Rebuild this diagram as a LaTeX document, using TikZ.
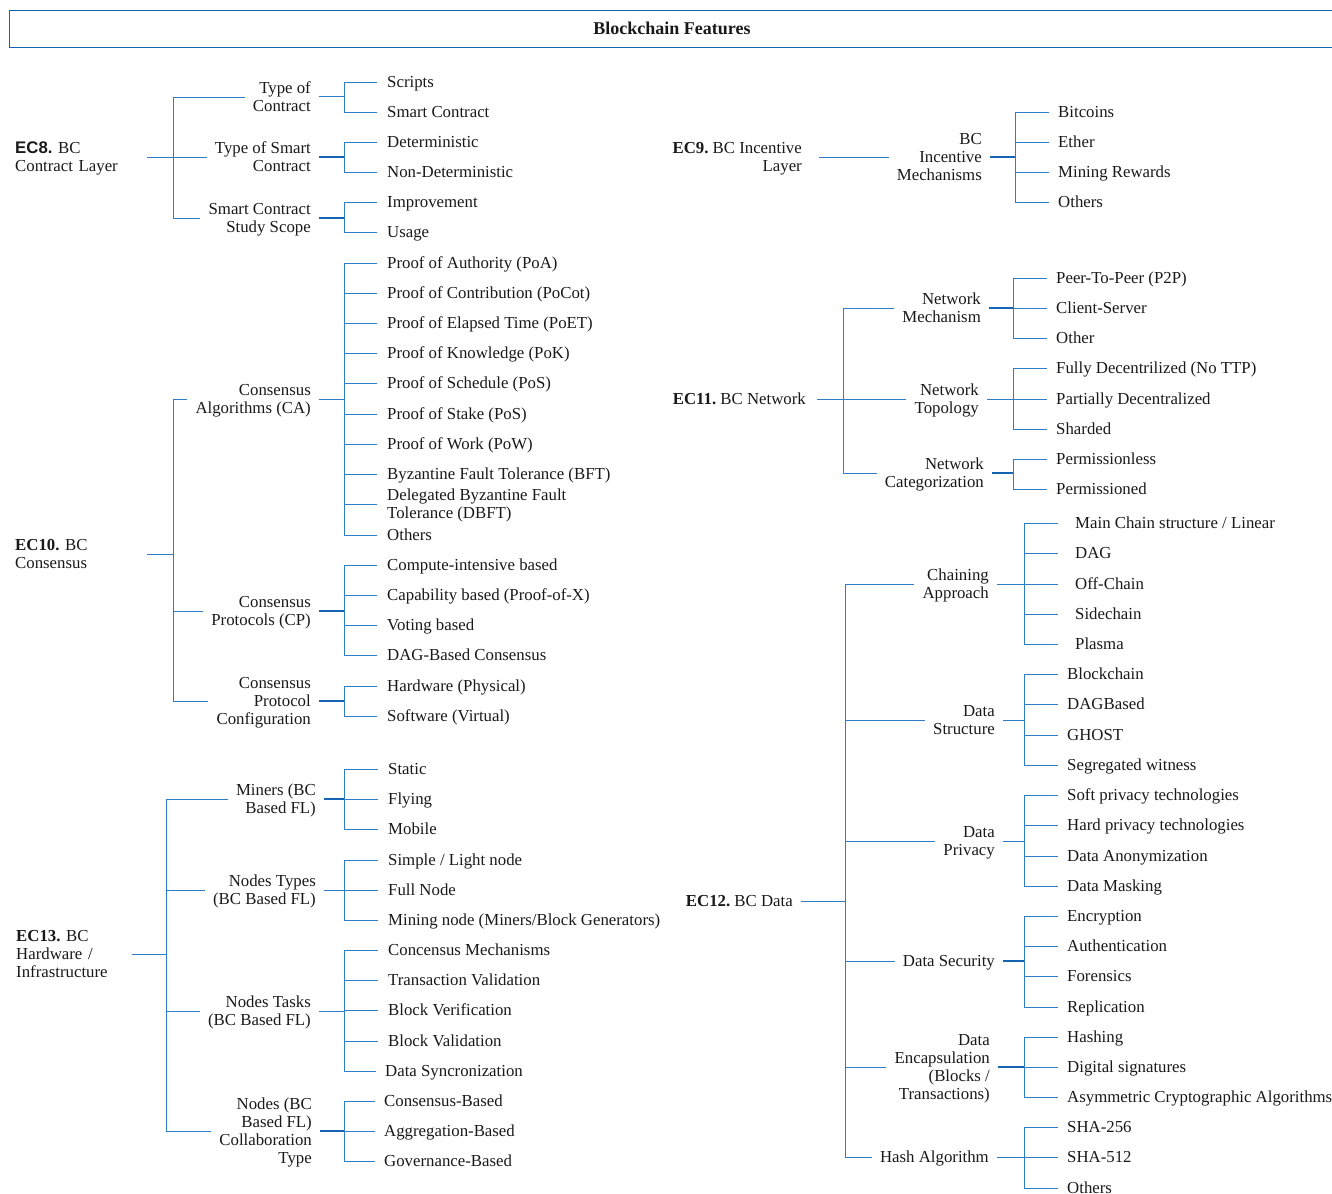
\documentclass[tikz,border=0pt]{standalone}
\usepackage{fontspec}
\setmainfont{Liberation Serif}
\newfontfamily\ecsans{Liberation Sans}
\definecolor{bcblue}{RGB}{45,125,200}
\definecolor{bcdark}{RGB}{20,100,180}
\frenchspacing
\begin{document}
\begin{tikzpicture}[x=1pt,y=-1pt,
  every node/.style={font=\fontsize{16.8}{18}\selectfont, inner ysep=0pt, text=black!90},
  % single line, and boxes whose baseline is the first line (fixed text width)
  l1/.style={text height=11.3pt, text depth=0pt},
  l2/.style={text height=11.3pt, text depth=18pt},
  l3/.style={text height=11.3pt, text depth=36pt},
  % boxes whose baseline is the last line (align without text width)
  m2/.style={text height=29.3pt, text depth=0pt},
  m3/.style={text height=47.3pt, text depth=0pt},
  m4/.style={text height=65.3pt, text depth=0pt},
  ln/.style={draw=bcblue, line width=0.9pt},
  stub/.style={draw=bcdark, line width=1.8pt},
  stubthin/.style={draw=bcblue, line width=1pt},
  rootl/.style={anchor=west, align=left, inner xsep=0pt},
  rootr/.style={anchor=east, align=right},
  mid/.style={anchor=east, align=right, inner xsep=8pt},
  leaf/.style={anchor=west, align=left, inner xsep=10pt, l1},
  leafn/.style={anchor=west, align=left, inner xsep=9pt, l1},
  leafw/.style={anchor=west, align=left, inner xsep=17pt, l1},
  titlebox/.style={draw=bcdark, line width=1.2pt, minimum width=1340pt, minimum height=37pt, anchor=north west, inner sep=0pt}
]
\useasboundingbox (0,0) rectangle (1332,1193);

% ---------- title ----------
\node[titlebox] (titlebox) at (9,10) {};
\node[font=\fontsize{18}{20}\selectfont\bfseries, text height=12pt, text depth=0pt] (title) at (672,29) {Blockchain Features};

% ---------- junction columns ----------
\coordinate (xL1) at (173,0);
\coordinate (xL2) at (166,0);
\coordinate (xLb) at (344,0);
\coordinate (xR11) at (843,0);
\coordinate (xR12) at (845,0);
\coordinate (xB9) at (1015,0);
\coordinate (xB11) at (1013,0);
\coordinate (xB12) at (1024,0);

% ================= EC8 =================
\node[rootl, l2, text width=132pt] (ec8) at (15,157) {{\ecsans\bfseries EC8.} BC\\Contract Layer};
\node[mid, m2] (toc)  at (319,97)  {Type of\\Contract};
\node[mid, m2] (tosc) at (319,157) {Type of Smart\\Contract};
\node[mid, m2] (scss) at (319,218) {Smart Contract\\Study Scope};
\node[leaf] (a1) at (377,82)  {Scripts};
\node[leaf] (a2) at (377,112) {Smart Contract};
\node[leaf] (a3) at (377,142) {Deterministic};
\node[leaf] (a4) at (377,172) {Non-Deterministic};
\node[leaf] (a5) at (377,202) {Improvement};
\node[leaf] (a6) at (377,232) {Usage};

\draw[ln] (ec8.east) -- (ec8.east -| xL1);
\draw[ln] (toc.west -| xL1) -- (scss.west -| xL1);
\foreach \m in {toc,tosc,scss} \draw[ln] (\m.west -| xL1) -- (\m.west);
\draw[stubthin] (toc.east) -- (toc.east -| xLb);
\draw[stub] (tosc.east) -- (tosc.east -| xLb);
\draw[stub] (scss.east) -- (scss.east -| xLb);
\draw[ln] (a1.west -| xLb) -- (a2.west -| xLb);
\draw[ln] (a3.west -| xLb) -- (a4.west -| xLb);
\draw[ln] (a5.west -| xLb) -- (a6.west -| xLb);
\foreach \l in {a1,a2,a3,a4,a5,a6} \draw[ln] (\l.west -| xLb) -- (\l.west);

% ================= EC10 =================
\node[rootl, l2, text width=132pt] (ec10) at (15,554) {\textbf{EC10.} BC\\Consensus};
\node[mid, m2] (ca)  at (319,399) {Consensus\\Algorithms (CA)};
\node[mid, m2] (cp)  at (319,611) {Consensus\\Protocols (CP)};
\node[mid, m3] (cpc) at (319,701) {Consensus\\Protocol\\Configuration};
\node[leaf] (b1)  at (377,263) {Proof of Authority (PoA)};
\node[leaf] (b2)  at (377,293) {Proof of Contribution (PoCot)};
\node[leaf] (b3)  at (377,323) {Proof of Elapsed Time (PoET)};
\node[leaf] (b4)  at (377,353) {Proof of Knowledge (PoK)};
\node[leaf] (b5)  at (377,383) {Proof of Schedule (PoS)};
\node[leaf] (b6)  at (377,414) {Proof of Stake (PoS)};
\node[leaf] (b7)  at (377,444) {Proof of Work (PoW)};
\node[leaf] (b8)  at (377,474) {Byzantine Fault Tolerance (BFT)};
\node[leaf, m2] (b9)  at (377,504) {Delegated Byzantine Fault\\Tolerance (DBFT)};
\node[leaf] (b10) at (377,535) {Others};
\node[leaf] (c1)  at (377,565) {Compute-intensive based};
\node[leaf] (c2)  at (377,595) {Capability based (Proof-of-X)};
\node[leaf] (c3)  at (377,625) {Voting based};
\node[leaf] (c4)  at (377,655) {DAG-Based Consensus};
\node[leaf] (d1)  at (377,686) {Hardware (Physical)};
\node[leaf] (d2)  at (377,716) {Software (Virtual)};

\draw[ln] (ec10.east) -- (ec10.east -| xL1);
\draw[ln] (ca.west -| xL1) -- (cpc.west -| xL1);
\foreach \m in {ca,cp,cpc} \draw[ln] (\m.west -| xL1) -- (\m.west);
\draw[stubthin] (ca.east) -- (ca.east -| xLb);
\draw[stub] (cp.east) -- (cp.east -| xLb);
\draw[stub] (cpc.east) -- (cpc.east -| xLb);
\draw[ln] (b1.west -| xLb) -- (b10.west -| xLb);
\draw[ln] (c1.west -| xLb) -- (c4.west -| xLb);
\draw[ln] (d1.west -| xLb) -- (d2.west -| xLb);
\foreach \l in {b1,b2,b3,b4,b5,b6,b7,b8,b9,b10,c1,c2,c3,c4,d1,d2} \draw[ln] (\l.west -| xLb) -- (\l.west);

% ================= EC13 =================
\node[rootl, l3, text width=116pt] (ec13) at (16,954) {\textbf{EC13.} BC\\Hardware /\\Infrastructure};
\node[mid, m2] (mi) at (324,799)  {Miners (BC\\Based FL)};
\node[mid, m2] (nt) at (324,890)  {Nodes Types\\(BC Based FL)};
\node[mid, m2] (nk) at (319,1011) {Nodes Tasks\\(BC Based FL)};
\node[mid, m4] (nc) at (320,1131) {Nodes (BC\\Based FL)\\Collaboration\\Type};
\node[leaf]  (e1)  at (378,769)  {Static};
\node[leaf]  (e2)  at (378,799)  {Flying};
\node[leaf]  (e3)  at (378,829)  {Mobile};
\node[leaf]  (f1)  at (378,860)  {Simple / Light node};
\node[leaf]  (f2)  at (378,890)  {Full Node};
\node[leaf]  (f3)  at (378,920)  {Mining node (Miners/Block Generators)};
\node[leaf]  (g1)  at (378,950)  {Concensus Mechanisms};
\node[leaf]  (g2)  at (378,980)  {Transaction Validation};
\node[leaf]  (g3)  at (378,1010) {Block Verification};
\node[leaf]  (g4)  at (378,1041) {Block Validation};
\node[leafn] (g5)  at (376,1071) {Data Syncronization};
\node[leafn] (h1)  at (375,1101) {Consensus-Based};
\node[leafn] (h2)  at (375,1131) {Aggregation-Based};
\node[leafn] (h3)  at (375,1161) {Governance-Based};

\draw[ln] (ec13.east) -- (ec13.east -| xL2);
\draw[ln] (mi.west -| xL2) -- (nc.west -| xL2);
\foreach \m in {mi,nt,nk,nc} \draw[ln] (\m.west -| xL2) -- (\m.west);
\draw[stub] (mi.east) -- (mi.east -| xLb);
\draw[stubthin] (nt.east) -- (nt.east -| xLb);
\draw[stubthin] (nk.east) -- (nk.east -| xLb);
\draw[stub] (nc.east) -- (nc.east -| xLb);
\draw[ln] (e1.west -| xLb) -- (e3.west -| xLb);
\draw[ln] (f1.west -| xLb) -- (f3.west -| xLb);
\draw[ln] (g1.west -| xLb) -- (g5.west -| xLb);
\draw[ln] (h1.west -| xLb) -- (h3.west -| xLb);
\foreach \l in {e1,e2,e3,f1,f2,f3,g1,g2,g3,g4,g5,h1,h2,h3} \draw[ln] (\l.west -| xLb) -- (\l.west);

% ================= EC9 =================
\node[rootr, m2, inner xsep=17pt] (ec9) at (819,157) {\textbf{EC9.} BC Incentive\\Layer};
\node[mid, m3] (bim) at (990,157) {BC\\Incentive\\Mechanisms};
\node[leafn] (i1) at (1049,112) {Bitcoins};
\node[leafn] (i2) at (1049,142) {Ether};
\node[leafn] (i3) at (1049,172) {Mining Rewards};
\node[leafn] (i4) at (1049,202) {Others};

\draw[ln] (ec9.east) -- (bim.west);
\draw[stub] (bim.east) -- (bim.east -| xB9);
\draw[ln] (i1.west -| xB9) -- (i4.west -| xB9);
\foreach \l in {i1,i2,i3,i4} \draw[ln] (\l.west -| xB9) -- (\l.west);

% ================= EC11 =================
\node[rootr, l1, inner xsep=11pt] (ec11) at (817,399) {\textbf{EC11.} BC Network};
\node[mid, m2] (nm)   at (989,308) {Network\\Mechanism};
\node[mid, m2] (ntop) at (987,399) {Network\\Topology};
\node[mid, m2] (ncat) at (992,473) {Network\\Categorization};
\node[leafn] (j1) at (1047,278) {Peer-To-Peer (P2P)};
\node[leafn] (j2) at (1047,308) {Client-Server};
\node[leafn] (j3) at (1047,338) {Other};
\node[leafn] (k1) at (1047,368) {Fully Decentrilized (No TTP)};
\node[leafn] (k2) at (1047,399) {Partially Decentralized};
\node[leafn] (k3) at (1047,429) {Sharded};
\node[leafn] (m1) at (1047,459) {Permissionless};
\node[leafn] (m2) at (1047,489) {Permissioned};

\draw[ln] (ec11.east) -- (ec11.east -| xR11);
\draw[ln] (nm.west -| xR11) -- (ncat.west -| xR11);
\foreach \m in {nm,ntop,ncat} \draw[ln] (\m.west -| xR11) -- (\m.west);
\draw[stub] (nm.east) -- (nm.east -| xB11);
\draw[stubthin] (ntop.east) -- (ntop.east -| xB11);
\draw[stub] (ncat.east) -- (ncat.east -| xB11);
\draw[ln] (j1.west -| xB11) -- (j3.west -| xB11);
\draw[ln] (k1.west -| xB11) -- (k3.west -| xB11);
\draw[ln] (m1.west -| xB11) -- (m2.west -| xB11);
\foreach \l in {j1,j2,j3,k1,k2,k3,m1,m2} \draw[ln] (\l.west -| xB11) -- (\l.west);

% ================= EC12 =================
\node[rootr, l1, inner xsep=8pt] (ec12) at (801,901) {\textbf{EC12.} BC Data};
\node[mid, m2] (ch)   at (997,584)  {Chaining\\Approach};
\node[mid, m2] (ds)   at (1003,720) {Data\\Structure};
\node[mid, m2] (dp)   at (1003,841) {Data\\Privacy};
\node[mid, l1] (dsec) at (1003,961) {Data Security};
\node[mid, m4] (de)   at (998,1067) {Data\\Encapsulation\\(Blocks /\\Transactions)};
\node[mid, l1] (ha)   at (997,1157) {Hash Algorithm};
\node[leafw] (n1) at (1058,523) {Main Chain structure / Linear};
\node[leafw] (n2) at (1058,553) {DAG};
\node[leafw] (n3) at (1058,584) {Off-Chain};
\node[leafw] (n4) at (1058,614) {Sidechain};
\node[leafw] (n5) at (1058,644) {Plasma};
\node[leafn] (o1) at (1058,674) {Blockchain};
\node[leafn] (o2) at (1058,704) {DAGBased};
\node[leafn] (o3) at (1058,735) {GHOST};
\node[leafn] (o4) at (1058,765) {Segregated witness};
\node[leafn] (p1) at (1058,795) {Soft privacy technologies};
\node[leafn] (p2) at (1058,825) {Hard privacy technologies};
\node[leafn] (p3) at (1058,856) {Data Anonymization};
\node[leafn] (p4) at (1058,886) {Data Masking};
\node[leafn] (q1) at (1058,916) {Encryption};
\node[leafn] (q2) at (1058,946) {Authentication};
\node[leafn] (q3) at (1058,976) {Forensics};
\node[leafn] (q4) at (1058,1007) {Replication};
\node[leafn] (r1) at (1058,1037) {Hashing};
\node[leafn] (r2) at (1058,1067) {Digital signatures};
\node[leafn] (r3) at (1058,1097) {Asymmetric Cryptographic Algorithms};
\node[leafn] (s1) at (1058,1127) {SHA-256};
\node[leafn] (s2) at (1058,1157) {SHA-512};
\node[leafn] (s3) at (1058,1188) {Others};

\draw[ln] (ec12.east) -- (ec12.east -| xR12);
\draw[ln] (ch.west -| xR12) -- (ha.west -| xR12);
\foreach \m in {ch,ds,dp,dsec,de,ha} \draw[ln] (\m.west -| xR12) -- (\m.west);
\draw[stubthin] (ch.east) -- (ch.east -| xB12);
\draw[stubthin] (ds.east) -- (ds.east -| xB12);
\draw[stubthin] (dp.east) -- (dp.east -| xB12);
\draw[stub] (dsec.east) -- (dsec.east -| xB12);
\draw[stub] (de.east) -- (de.east -| xB12);
\draw[stubthin] (ha.east) -- (ha.east -| xB12);
\draw[ln] (n1.west -| xB12) -- (n5.west -| xB12);
\draw[ln] (o1.west -| xB12) -- (o4.west -| xB12);
\draw[ln] (p1.west -| xB12) -- (p4.west -| xB12);
\draw[ln] (q1.west -| xB12) -- (q4.west -| xB12);
\draw[ln] (r1.west -| xB12) -- (r3.west -| xB12);
\draw[ln] (s1.west -| xB12) -- (s3.west -| xB12);
\foreach \l in {n1,n2,n3,n4,n5,o1,o2,o3,o4,p1,p2,p3,p4,q1,q2,q3,q4,r1,r2,r3,s1,s2,s3} \draw[ln] (\l.west -| xB12) -- (\l.west);
\end{tikzpicture}
\end{document}
